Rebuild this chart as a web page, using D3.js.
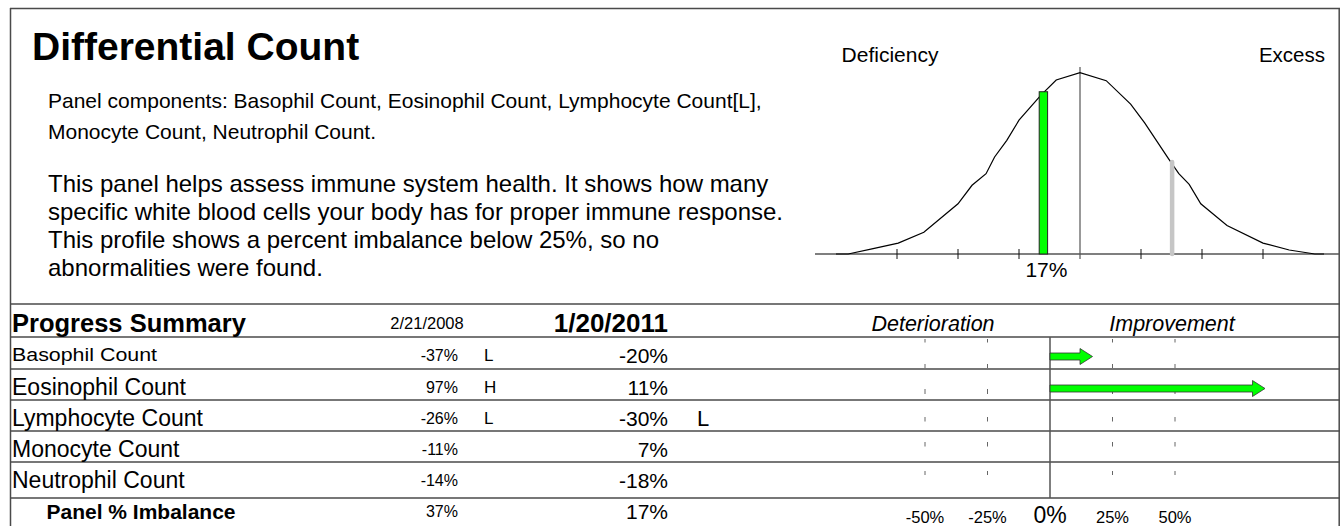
<!DOCTYPE html>
<html><head><meta charset="utf-8">
<script src="https://cdn.jsdelivr.net/npm/d3@7"></script>
<style>
html,body{margin:0;padding:0;background:#fff;}
svg{display:block;font-family:"Liberation Sans",Arial,Helvetica,sans-serif;}
</style>
</head><body>
<svg id="chart" width="1340" height="526"></svg>
<script>
// ---------------- data ----------------
const titleText = "Differential Count";
const componentLines = [
  "Panel components: Basophil Count, Eosinophil Count, Lymphocyte Count[L],",
  "Monocyte Count, Neutrophil Count."
];
const descriptionLines = [
  "This panel helps assess immune system health. It shows how many",
  "specific white blood cells your body has for proper immune response.",
  "This profile shows a percent imbalance below 25%, so no",
  "abnormalities were found."
];
const categories = ["Basophil Count", "Eosinophil Count", "Lymphocyte Count", "Monocyte Count", "Neutrophil Count"];
const dates = ["2/21/2008", "1/20/2011"];
const previousValues = [-37, 97, -26, -11, -14];
const previousFlags = ["L", "H", "L", "", ""];
const currentValues = [-20, 11, -30, 7, -18];
const currentFlags = ["", "", "L", "", ""];
const panelImbalance = [37, 17];
const changeTicks = [-50, -25, 0, 25, 50];
const changeTickLabels = ["-50%", "-25%", "0%", "25%", "50%"];
const bellX = [-4.0, -3.8, -3.41, -2.98, -2.56, -2.0, -1.77, -1.54, -1.40, -1.2, -1.0, -0.64, -0.39, 0, 0.43, 0.83, 1.06, 1.45, 1.62, 1.79, 1.98, 2.41, 3.0, 3.43, 3.85, 4.0];
const bellY = [0, 0, 0.028, 0.060, 0.120, 0.277, 0.379, 0.443, 0.535, 0.627, 0.738, 0.876, 0.960, 1.0, 0.956, 0.827, 0.723, 0.526, 0.443, 0.384, 0.277, 0.157, 0.060, 0.022, 0, 0];
const bellTicks = [-3, -2, -1, 1, 2, 3];
const markerPositions = [-0.6, 1.51];   // current, previous
const markerHeights = [0.895, 0.508];
const markerLabel = "17%";
const bellLabels = ["Deficiency", "Excess"];
const columnHeaders = ["Deterioration", "Improvement"];

// ---------------- drawing ----------------
const svg = d3.select("#chart");
const LINE = "#4a4a4a";

// frame
svg.append("line").attr("x1", 10).attr("x2", 1340).attr("y1", 8.5).attr("y2", 8.5).attr("stroke", LINE).attr("stroke-width", 1.5);
svg.append("line").attr("x1", 10.5).attr("x2", 10.5).attr("y1", 8).attr("y2", 526).attr("stroke", LINE).attr("stroke-width", 1.5);
svg.append("line").attr("x1", 1339.2).attr("x2", 1339.2).attr("y1", 8).attr("y2", 526).attr("stroke", LINE).attr("stroke-width", 1.5);

// title & texts
svg.append("text").attr("x", 32).attr("y", 60).attr("font-size", 39).attr("font-weight", "bold").text(titleText);
svg.selectAll("text.comp").data(componentLines).join("text").attr("class", "comp")
  .attr("x", 48).attr("y", (d, i) => 107.5 + i * 31).attr("font-size", 21).text(d => d);
svg.selectAll("text.desc").data(descriptionLines).join("text").attr("class", "desc")
  .attr("x", 48).attr("y", (d, i) => 192 + i * 28).attr("font-size", 24).text(d => d);

// ---------------- bell curve ----------------
const xb = d3.scaleLinear().domain([-4, 4]).range([836, 1324]);
const yb = d3.scaleLinear().domain([0, 1]).range([254, 72.7]);
const axisY = yb(0);

svg.append("text").attr("x", 890).attr("y", 62).attr("font-size", 21)
  .attr("text-anchor", "middle").text(bellLabels[0]);
svg.append("text").attr("x", 1325).attr("y", 62).attr("font-size", 20.5)
  .attr("text-anchor", "end").text(bellLabels[1]);

svg.append("line").attr("x1", 815).attr("x2", 1340).attr("y1", axisY).attr("y2", axisY)
  .attr("stroke", "#555").attr("stroke-width", 1.6);
svg.selectAll("line.bt").data(bellTicks).join("line").attr("class", "bt")
  .attr("x1", d => xb(d)).attr("x2", d => xb(d)).attr("y1", axisY - 5).attr("y2", axisY + 5)
  .attr("stroke", "#111").attr("stroke-width", 1);
svg.append("line").attr("x1", xb(0)).attr("x2", xb(0)).attr("y1", 67).attr("y2", axisY + 5)
  .attr("stroke", "#555").attr("stroke-width", 1.2);

const bellPts = bellX.map((x, i) => [x, bellY[i]]);
svg.append("path").datum(bellPts)
  .attr("d", d3.line().x(d => xb(d[0])).y(d => yb(d[1])))
  .attr("fill", "none").attr("stroke", "#000").attr("stroke-width", 1.2);

// previous marker (grey)
svg.append("line").attr("x1", xb(markerPositions[1])).attr("x2", xb(markerPositions[1]))
  .attr("y1", yb(0)).attr("y2", yb(markerHeights[1]))
  .attr("stroke", "#c6c6c6").attr("stroke-width", 4.5).attr("stroke-linecap", "round");
// current marker (green bar)
svg.append("rect").attr("x", xb(markerPositions[0]) - 4.2).attr("width", 8.4)
  .attr("y", yb(markerHeights[0])).attr("height", yb(0) - yb(markerHeights[0]))
  .attr("fill", "#00ff00").attr("stroke", "#222").attr("stroke-width", 1);
svg.append("text").attr("x", xb(markerPositions[0]) + 3).attr("y", 277).attr("font-size", 21)
  .attr("text-anchor", "middle").text(markerLabel);

// ---------------- table ----------------
const rowLines = [304, 337, 369, 400, 431, 462, 498];
svg.selectAll("line.row").data(rowLines).join("line").attr("class", "row")
  .attr("x1", 10).attr("x2", 1340).attr("y1", d => d).attr("y2", d => d)
  .attr("stroke", LINE).attr("stroke-width", 1.5);

const rowCenters = [355, 387, 418, 449, 480];
const headerC = 323, panelC = 511;

svg.append("text").attr("x", 12).attr("y", headerC + 9).attr("font-size", 25.5).attr("font-weight", "bold").text("Progress Summary");
svg.append("text").attr("x", 427).attr("y", headerC + 6).attr("font-size", 16.5).attr("text-anchor", "middle").text(dates[0]);
svg.append("text").attr("x", 668).attr("y", headerC + 9).attr("font-size", 26).attr("font-weight", "bold").attr("text-anchor", "end").text(dates[1]);

svg.selectAll("text.cat").data(categories).join("text").attr("class", "cat")
  .attr("x", 12).attr("y", (d, i) => rowCenters[i] + (i === 0 ? 6 : 8))
  .attr("font-size", (d, i) => i === 0 ? 17.5 : 23)
  .attr("textLength", (d, i) => i === 0 ? 145 : null)
  .attr("lengthAdjust", "spacingAndGlyphs")
  .text(d => d);
svg.selectAll("text.pv").data(previousValues).join("text").attr("class", "pv")
  .attr("x", 458).attr("y", (d, i) => rowCenters[i] + 6).attr("font-size", 16)
  .attr("text-anchor", "end").text(d => d + "%");
svg.selectAll("text.pf").data(previousFlags).join("text").attr("class", "pf")
  .attr("x", 484).attr("y", (d, i) => rowCenters[i] + 6).attr("font-size", 17).text(d => d);
svg.selectAll("text.cv").data(currentValues).join("text").attr("class", "cv")
  .attr("x", 668).attr("y", (d, i) => rowCenters[i] + 7.5).attr("font-size", 21)
  .attr("text-anchor", "end").text(d => d + "%");
svg.selectAll("text.cf").data(currentFlags).join("text").attr("class", "cf")
  .attr("x", 697).attr("y", (d, i) => rowCenters[i] + 8).attr("font-size", 22).text(d => d);

svg.append("text").attr("x", 141).attr("y", panelC + 7.5).attr("font-size", 21).attr("font-weight", "bold")
  .attr("text-anchor", "middle").text("Panel % Imbalance");
svg.append("text").attr("x", 458).attr("y", panelC + 6).attr("font-size", 16).attr("text-anchor", "end").text(panelImbalance[0] + "%");
svg.append("text").attr("x", 668).attr("y", panelC + 7.5).attr("font-size", 21).attr("text-anchor", "end").text(panelImbalance[1] + "%");

// ---------------- change chart ----------------
const xc = d3.scaleLinear().domain([-50, 50]).range([925, 1175]);
svg.selectAll("text.ch").data(columnHeaders).join("text").attr("class", "ch")
  .attr("x", (d, i) => i === 0 ? 933 : 1172).attr("y", headerC + 7.5).attr("font-size", 21.5)
  .attr("font-style", "italic").attr("text-anchor", "middle").text(d => d);

// small ticks per row
const tickRows = [[339, 342.5], [364, 368], [389, 394], [417, 421.5], [442, 446.5], [471, 475]];
tickRows.forEach(r => {
  svg.selectAll(null).data(changeTicks.filter(t => t !== 0)).join("line")
    .attr("x1", d => xc(d)).attr("x2", d => xc(d)).attr("y1", r[0]).attr("y2", r[1])
    .attr("stroke", "#666").attr("stroke-width", 1);
});
svg.append("line").attr("x1", xc(0)).attr("x2", xc(0)).attr("y1", 337).attr("y2", 498)
  .attr("stroke", "#555").attr("stroke-width", 1.5);

// arrows (improvement = reduction of absolute imbalance)
const improvements = previousValues.map((p, i) => Math.abs(p) - Math.abs(currentValues[i]));
improvements.forEach((v, i) => {
  if (Math.abs(v) < 10) return;
  const x0 = xc(0), x1 = xc(v), cy = rowCenters[i] + 1.5;
  const dir = v > 0 ? 1 : -1;
  const hb = x1 - dir * 12.5;
  const pts = [[x0, cy - 3.5], [hb, cy - 3.5], [hb, cy - 8], [x1, cy], [hb, cy + 8], [hb, cy + 3.5], [x0, cy + 3.5]];
  svg.append("path").attr("d", d3.line()(pts) + "Z")
    .attr("fill", "#00ff00").attr("stroke", "#333").attr("stroke-width", 0.8);
});

svg.selectAll("text.cl").data(changeTickLabels).join("text").attr("class", "cl")
  .attr("x", (d, i) => xc(changeTicks[i])).attr("y", 522.5)
  .attr("font-size", (d, i) => changeTicks[i] === 0 ? 23 : 16.5)
  .attr("text-anchor", "middle").text(d => d);
</script>
</body></html>
